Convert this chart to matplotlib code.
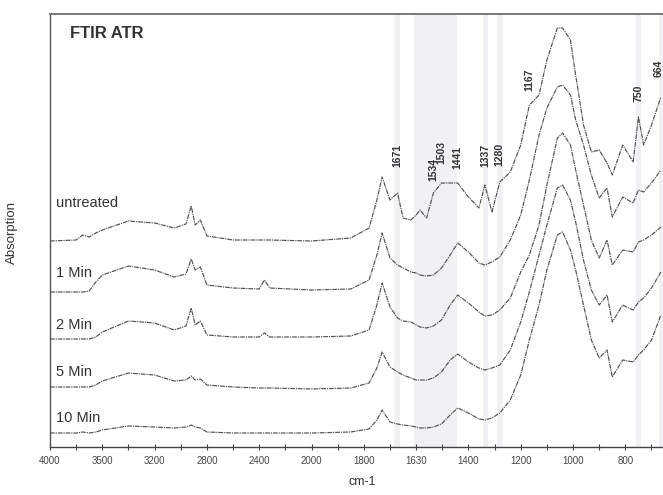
import numpy as np
import matplotlib
matplotlib.use("Agg")
import matplotlib.pyplot as plt

# ---------------- data ----------------
wavenumbers = [4000, 3800, 3750, 3700, 3650, 3600, 3400, 3200, 3050, 2960, 2920, 2890, 2850,
               2800, 2600, 2400, 2360, 2320, 2000, 1850, 1780, 1750, 1730, 1700, 1671, 1650,
               1620, 1600, 1585, 1560, 1534, 1503, 1470, 1441, 1400, 1360, 1337, 1310, 1280,
               1240, 1200, 1167, 1130, 1100, 1060, 1040, 1010, 990, 960, 930, 900, 870, 850,
               810, 770, 750, 730, 700, 664]

untreated = [206, 207, 212, 210, 214, 217, 226, 224, 219, 223, 241, 222, 227,
             211, 207, 207, 207, 207, 206, 209, 219, 247, 270, 247, 254, 229,
             227, 232, 237, 229, 254, 264, 264, 264, 250, 239, 262, 235, 265,
             275, 302, 342, 352, 387, 419, 419, 407, 372, 322, 295, 297, 284, 272,
             302, 285, 330, 302, 322, 350]

min_1 = [155, 155, 155, 156, 165, 172, 181, 177, 170, 173, 188, 177, 180,
         162, 159, 158, 167, 159, 157, 158, 167, 192, 214, 189, 182, 179,
         175, 174, 172, 171, 172, 179, 192, 204, 195, 184, 182, 185, 190,
         207, 232, 267, 312, 339, 360, 362, 352, 327, 302, 272, 249, 259, 230,
         250, 244, 257, 255, 264, 277]

min_2 = [108, 108, 108, 108, 110, 115, 126, 124, 117, 121, 139, 122, 126,
         112, 110, 110, 114, 110, 110, 111, 117, 142, 164, 140, 129, 126,
         125, 122, 120, 119, 121, 127, 142, 152, 144, 135, 131, 132, 137,
         149, 175, 192, 222, 262, 309, 314, 302, 277, 242, 207, 189, 207, 182,
         197, 195, 205, 207, 212, 220]

min_5 = [60, 60, 60, 60, 62, 66, 74, 72, 66, 67, 71, 67, 68,
         62, 60, 59, 59, 59, 58, 59, 64, 79, 95, 80, 75, 72,
         69, 67, 67, 67, 69, 75, 87, 93, 85, 79, 77, 79, 82,
         97, 125, 155, 192, 222, 259, 262, 247, 225, 187, 157, 142, 152, 125,
         142, 137, 145, 149, 159, 175]

min_10 = [14, 14, 15, 14, 15, 17, 21, 20, 19, 20, 22, 20, 19,
          15, 14, 14, 14, 14, 14, 15, 18, 27, 37, 25, 23, 22,
          21, 20, 19, 19, 20, 23, 32, 39, 34, 28, 27, 29, 34,
          47, 72, 107, 142, 177, 212, 215, 197, 177, 142, 107, 89, 97, 70,
          87, 85, 92, 97, 107, 132]

series_names = ["untreated", "1 Min", "2 Min", "5 Min", "10 Min"]
series_values = [untreated, min_1, min_2, min_5, min_10]
series_label_y = [244, 174, 122, 75, 29]

peak_positions = [1671, 1534, 1503, 1441, 1337, 1280, 1167, 750, 672]
peak_labels = ["1671", "1534", "1503", "1441", "1337", "1280", "1167", "750", "664"]
peak_label_base = [280, 266, 283, 278, 280, 281, 356, 345, 370]

bands = [(1685, 1662), (1610, 1445), (1345, 1327), (1292, 1268), (758, 742), (672, 656)]

tick_values = [4000, 3600, 3200, 2800, 2400, 2000, 1800, 1600, 1400, 1200, 1000, 800]
tick_labels = ["4000", "3500", "3200", "2800", "2400", "2000", "1800", "1630", "1400", "1200", "1000", "800"]
minor_ticks = [3800, 3400, 3000, 2600, 2200, 1900, 1700, 1500, 1300, 1100, 900, 700]

# ---------------- scale (FTIR split axis: 400/step above 2000, 200/step below) ----------------
def fwd(w):
    return np.interp(w, [-1000, 2000, 6000], [-8, 7, 17])

def inv(p):
    return np.interp(p, [-8, 7, 17], [-1000, 2000, 6000])

W, H = 663, 495
fig = plt.figure(figsize=(W / 100, H / 100), dpi=100)
ax = fig.add_axes([50 / W, 1 - 447 / H, 1 - 50 / W, (447 - 14) / H])
ax.set_xscale("function", functions=(fwd, inv))
ax.set_xlim(4000, 656)
ax.set_ylim(0, 433)

for lo, hi in bands:
    ax.axvspan(hi, lo, color="#f0f0f5", lw=0, zorder=0)

for vals in series_values:
    ax.plot(wavenumbers, vals, color="#505050", lw=0.85, ls=(0, (4, 0.8, 1, 0.8)), zorder=2)

for name, ly in zip(series_names, series_label_y):
    ax.text(3955, ly, name, fontsize=10.5, family="Liberation Sans", color="#333333",
            ha="left", va="center")

for pos, lab, base in zip(peak_positions, peak_labels, peak_label_base):
    ax.text(pos, base, lab, rotation=90, fontsize=7.5, fontweight="bold",
            family="Liberation Sans", color="#333333", ha="center", va="bottom")

ax.text(3850, 414, "FTIR ATR", fontsize=12, fontweight="bold", family="Liberation Sans",
        color="#333333", ha="left", va="center")

ax.set_xticks(tick_values)
ax.set_xticklabels(tick_labels)
ax.set_xticks(minor_ticks, minor=True)
ax.tick_params(axis="x", which="both", direction="inout", length=5, width=0.8,
               colors="#444444", labelsize=7, pad=4)
ax.tick_params(axis="y", left=False, labelleft=False)
for lab in ax.get_xticklabels():
    lab.set_family("Liberation Sans")

ax.spines["right"].set_visible(False)
ax.spines["top"].set_color("#777777")
ax.spines["top"].set_linewidth(1.4)
ax.spines["left"].set_color("#555555")
ax.spines["left"].set_linewidth(1.0)
ax.spines["bottom"].set_color("#444444")
ax.spines["bottom"].set_linewidth(1.0)

fig.text(362 / W, 1 - 482 / H, "cm-1", fontsize=9, family="Liberation Sans",
         color="#333333", ha="center", va="center")
fig.text(12 / W, 1 - 233 / H, "Absorption", fontsize=9.5, family="Liberation Sans",
         color="#333333", rotation=90, ha="center", va="center")

fig.savefig("out.png", dpi=100)
